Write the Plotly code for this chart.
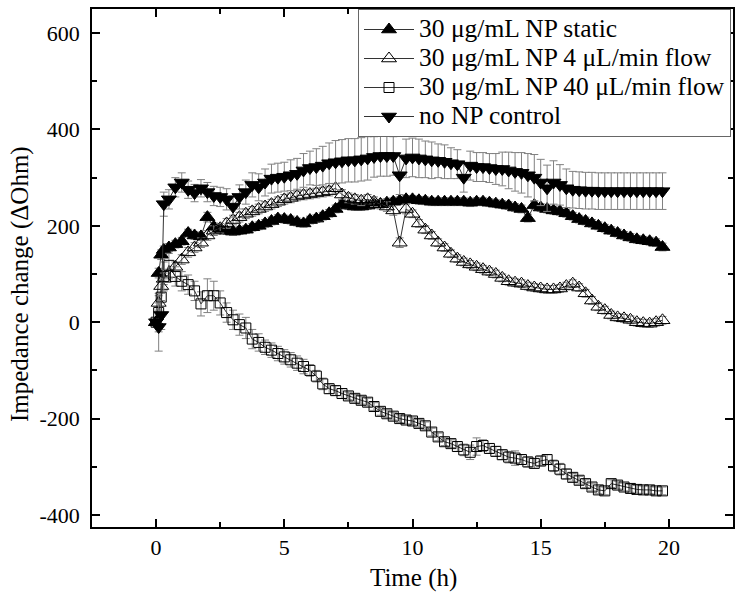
import plotly.graph_objects as go

time_h = [0, 0.1, 0.2, 0.3, 0.5, 0.75, 1.0, 1.25, 1.5, 1.75, 2.0, 2.25, 2.5, 2.75,
          3.0, 3.25, 3.5, 3.75, 4.0, 4.25, 4.5, 4.75, 5.0, 5.25, 5.5, 5.75, 6.0, 6.25,
          6.5, 6.75, 7.0, 7.25, 7.5, 7.75, 8.0, 8.25, 8.5, 8.75, 9.0, 9.25, 9.5, 9.75,
          10.0, 10.25, 10.5, 10.75, 11.0, 11.25, 11.5, 11.75, 12.0, 12.25, 12.5, 12.75,
          13.0, 13.25, 13.5, 13.75, 14.0, 14.25, 14.5, 14.75, 15.0, 15.25, 15.5, 15.75,
          16.0, 16.25, 16.5, 16.75, 17.0, 17.25, 17.5, 17.75, 18.0, 18.25, 18.5, 18.75,
          19.0, 19.25, 19.5, 19.75]

static_np = [0, 102, 140, 150, 155, 162, 168, 185, 180, 178, 218, 198, 192, 190,
             188, 190, 192, 197, 200, 205, 210, 215, 214, 212, 208, 205, 212, 215,
             220, 226, 235, 245, 242, 240, 240, 242, 245, 245, 248, 250, 252, 255,
             255, 253, 252, 250, 250, 250, 250, 250, 250, 248, 250, 250,
             248, 246, 244, 242, 238, 235, 216, 243, 238, 235, 232, 230,
             226, 220, 214, 210, 205, 200, 195, 190, 185, 180, 176, 172,
             170, 168, 165, 156]
static_err = [5, 10, 10, 8, 8, 8, 8, 8, 8, 8, 10, 8, 8, 8,
              8, 8, 8, 8, 8, 8, 8, 8, 8, 8, 8, 8, 8, 8,
              8, 8, 8, 8, 8, 8, 8, 8, 8, 8, 8, 8, 8, 8,
              8, 8, 8, 8, 8, 8, 8, 8, 8, 8, 8, 8,
              8, 8, 8, 8, 8, 8, 8, 8, 8, 8, 8, 8,
              8, 8, 8, 8, 8, 8, 8, 8, 8, 8, 8, 8,
              8, 8, 8, 8]

flow4_np = [0, 40, 75, 90, 100, 115, 130, 145, 155, 165, 180, 190, 195, 205,
            212, 218, 225, 230, 235, 240, 245, 250, 255, 258, 262, 264, 266, 268,
            270, 272, 278, 265, 258, 255, 252, 255, 250, 245, 240, 232, 165, 235,
            225, 205, 192, 180, 165, 155, 142, 132, 125, 120, 115, 110,
            105, 100, 92, 85, 82, 80, 75, 72, 70, 68, 68, 70,
            75, 80, 72, 60, 45, 32, 25, 15, 10, 8, 5, 0,
            -2, -3, 0, 4]
flow4_err = [5, 15, 15, 12, 10, 10, 10, 10, 10, 10, 10, 10, 10, 10,
             10, 10, 10, 10, 10, 10, 10, 10, 10, 10, 10, 10, 10, 10,
             10, 10, 10, 10, 10, 10, 10, 10, 10, 10, 10, 10, 10, 10,
             8, 8, 8, 8, 8, 8, 8, 8, 8, 8, 8, 8,
             8, 8, 8, 8, 8, 8, 8, 8, 8, 8, 8, 8,
             8, 8, 8, 8, 8, 8, 8, 8, 8, 8, 8, 8,
             8, 8, 8, 8]

flow40_np = [0, 20, 52, 95, 118, 95, 85, 78, 65, 38, 55, 55, 40, 20,
             5, -5, -12, -35, -42, -52, -58, -65, -72, -78, -85, -92, -100, -112,
             -128, -138, -142, -148, -153, -158, -162, -166, -175, -185, -190, -195, -200, -203,
             -205, -210, -215, -228, -238, -248, -252, -258, -265, -270, -258, -256,
             -262, -268, -275, -280, -282, -285, -290, -293, -288, -285, -298, -305,
             -315, -322, -328, -335, -342, -348, -350, -335, -338, -342, -345, -347,
             -348, -348, -350, -350]
flow40_err = [5, 40, 35, 30, 25, 20, 20, 20, 20, 25, 35, 30, 25, 20,
              20, 22, 22, 20, 18, 15, 15, 15, 15, 15, 15, 15, 12, 12,
              12, 10, 10, 10, 8, 8, 8, 8, 8, 8, 8, 8, 8, 8,
              8, 8, 8, 8, 8, 8, 8, 10, 12, 15, 18, 12,
              10, 10, 10, 12, 15, 10, 10, 10, 10, 10, 12, 12,
              10, 8, 8, 8, 8, 8, 8, 8, 8, 8, 8, 8,
              8, 8, 8, 8]

control_np = [0, -10, 15, 245, 255, 280, 290, 275, 268, 278, 270, 262, 260, 255,
              240, 260, 270, 285, 280, 290, 298, 300, 302, 305, 308, 315, 320, 322,
              325, 330, 332, 334, 336, 336, 338, 340, 343, 345, 345, 345, 305, 340,
              342, 340, 338, 336, 335, 333, 330, 328, 300, 325, 322, 322,
              320, 318, 318, 315, 312, 310, 305, 300, 290, 278, 290, 285,
              278, 275, 274, 273, 273, 272, 272, 272, 272, 272, 272, 272,
              272, 272, 272, 272]
control_err = [5, 50, 30, 25, 20, 20, 20, 18, 18, 18, 20, 20, 20, 22,
               22, 25, 25, 25, 28, 28, 30, 30, 30, 32, 32, 35, 35, 38,
               40, 42, 45, 45, 45, 45, 45, 45, 42, 42, 42, 40, 40, 40,
               40, 40, 38, 38, 35, 35, 32, 30, 30, 30, 30, 30,
               30, 32, 35, 38, 40, 42, 45, 48, 48, 48, 45, 42,
               40, 38, 38, 38, 38, 38, 38, 38, 38, 38, 38, 38,
               38, 38, 38, 38]

x_tick_vals = [0, 5, 10, 15, 20]
x_tick_text = ["0", "5", "10", "15", "20"]
y_tick_vals = [-400, -200, 0, 200, 400, 600]
y_tick_text = ["-400", "-200", "0", "200", "400", "600"]

series_names = ["30 μg/mL NP static", "30 μg/mL NP 4 μL/min flow",
                "30 μg/mL NP 40 μL/min flow", "no NP control"]

series = [
    (series_names[0], static_np, static_err, "triangle-up", 13),
    (series_names[1], flow4_np, flow4_err, "triangle-up-open", 13),
    (series_names[2], flow40_np, flow40_err, "square-open", 10),
    (series_names[3], control_np, control_err, "triangle-down", 13),
]

fig = go.Figure()
for name, vals, errs, sym, sz in series:
    fig.add_trace(go.Scatter(
        x=time_h, y=vals,
        name="<span style='font-size:25.5px'>" + name + "</span>",
        mode="lines+markers",
        line=dict(color="#333333", width=1),
        marker=dict(symbol=sym, size=sz, color="black",
                    line=dict(color="black", width=1)),
        error_y=dict(type="data", array=errs, visible=True,
                     color="#808080", thickness=1, width=4),
    ))

font_family = "Liberation Serif"
pw, ph = 743 - 92 - 10, 606 - 9 - 79
fig.update_layout(
    width=743, height=606,
    margin=dict(l=92, r=10, t=9, b=79),
    paper_bgcolor="white", plot_bgcolor="white",
    font=dict(family=font_family, color="black", size=22),
    showlegend=True,
    legend=dict(x=0.415, y=1, xanchor="left", yanchor="top",
                bgcolor="white", bordercolor="#666666", borderwidth=1,
                itemwidth=50,
                font=dict(family=font_family, size=20, color="black")),
    annotations=[
        dict(text="Time (h)", x=(413 - 92) / pw, y=(606 - 79 - 578) / ph,
             xref="paper", yref="paper", xanchor="center", yanchor="middle",
             showarrow=False, font=dict(family=font_family, size=25)),
        dict(text="Impedance change (ΔOhm)", x=(20 - 92) / pw, y=(606 - 79 - 284) / ph,
             xref="paper", yref="paper", xanchor="center", yanchor="middle",
             textangle=-90, showarrow=False, font=dict(family=font_family, size=25)),
    ],
)

fig.update_xaxes(
    range=[-2.5, 22.5], tickvals=x_tick_vals, ticktext=x_tick_text,
    ticks="inside", ticklen=8, tickwidth=1.5, tickcolor="black",
    showline=True, linecolor="black", linewidth=1.5, mirror="allticks",
    showgrid=False, zeroline=False, automargin=False,
    tickfont=dict(family=font_family, size=22),
    minor=dict(ticks="inside", ticklen=5, tickwidth=1.5, dtick=2.5, tick0=0,
               tickcolor="black", showgrid=False),
)
fig.update_yaxes(
    range=[-425, 650], tickvals=y_tick_vals, ticktext=y_tick_text,
    ticks="inside", ticklen=8, tickwidth=1.5, tickcolor="black",
    showline=True, linecolor="black", linewidth=1.5, mirror="allticks",
    showgrid=False, zeroline=False, automargin=False,
    ticklabelstandoff=6,
    tickfont=dict(family=font_family, size=22),
    minor=dict(ticks="inside", ticklen=5, tickwidth=1.5, dtick=100, tick0=0,
               tickcolor="black", showgrid=False),
)
fig.write_html("out.html", config={"displayModeBar": False},
               post_script="document.body.style.margin='0';")
